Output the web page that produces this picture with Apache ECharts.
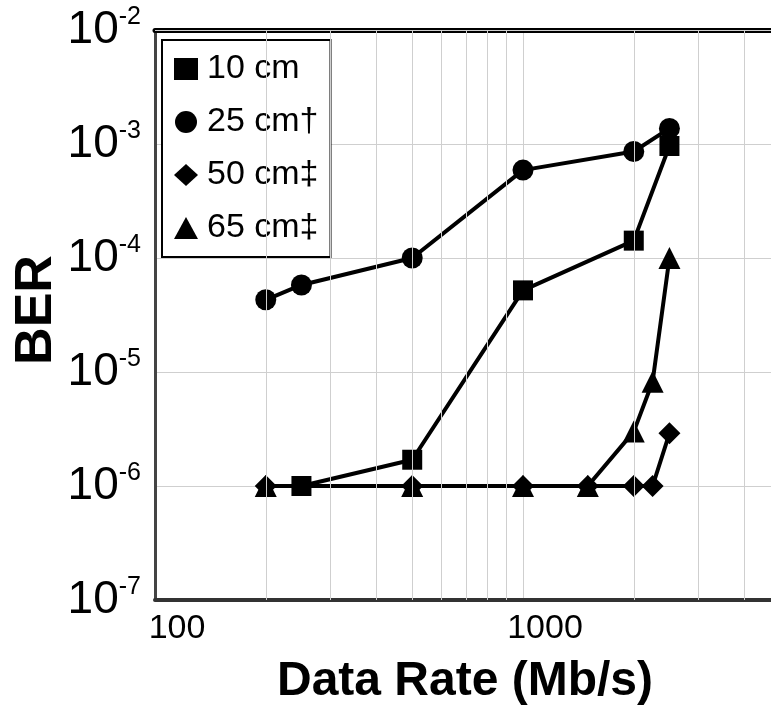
<!DOCTYPE html>
<html>
<head>
<meta charset="utf-8">
<script src="https://cdn.jsdelivr.net/npm/echarts@6/dist/echarts.min.js"></script>
<style>
  html, body { margin: 0; padding: 0; background: #fff; }
  #main { width: 771px; height: 717px; }
</style>
</head>
<body>
<div id="main"></div>
<script>
// 数据：横轴为数据率 (Mb/s)，纵轴为误码率 BER
const seriesNames = ['10 cm', '25 cm†', '50 cm‡', '65 cm‡']
const rate10 = [250, 500, 1000, 2000, 2500]
const ber10 = [1e-6, 1.7e-6, 5.2e-5, 1.42e-4, 9.6e-4]
const rate25 = [200, 250, 500, 1000, 2000, 2500]
const ber25 = [4.3e-5, 5.8e-5, 1e-4, 5.9e-4, 8.6e-4, 1.37e-3]
const rate50 = [200, 500, 1000, 1500, 2000, 2250, 2500]
const ber50 = [1e-6, 1e-6, 1e-6, 1e-6, 1e-6, 1e-6, 2.9e-6]
const rate65 = [200, 500, 1000, 1500, 2000, 2250, 2500]
const ber65 = [1e-6, 1e-6, 1e-6, 1e-6, 3e-6, 8.2e-6, 1e-4]

// 网格线（对数坐标的 2..9 倍）
const gridSteps = [2, 3, 4, 5, 6, 7, 8, 9]
const xDecades = [100, 1000]
const yDecades = [1e-7, 1e-6, 1e-5, 1e-4, 1e-3]
const xTickLabels = ['100', '1000']

const font = "'Liberation Sans', Arial, sans-serif"

function pairs(xs, ys) {
  return xs.map((x, i) => [x, ys[i]])
}

let gridLines = []
xDecades.forEach((d) => gridSteps.forEach((k) => gridLines.push({ xAxis: k * d })))
yDecades.forEach((d) => gridSteps.forEach((k) => gridLines.push({ yAxis: k * d })))

var myChart = echarts.init(document.getElementById('main'))

const lineSeries = (name, xs, ys, symbol, size) => ({
  name,
  type: 'line',
  data: pairs(xs, ys),
  symbol,
  symbolSize: size,
  z: 3,
  lineStyle: { color: '#000', width: 4 },
  itemStyle: { color: '#000' },
})

// 右边界被裁掉，横轴只显示到约 4700
const xMax = 4720

var option = {
  backgroundColor: '#fff',
  animation: false,
  grid: { left: 155, top: 30, bottom: 117, right: 0 },
  xAxis: [
    {
      type: 'log',
      min: 100,
      max: xMax,
      axisLine: { lineStyle: { color: '#333', width: 4 } },
      axisTick: { show: false },
      splitLine: { show: true, lineStyle: { color: '#cfcfcf', width: 1 } },
      axisLabel: {
        margin: 12,
        padding: [0, 0, 0, 44],
        fontFamily: font,
        fontSize: 34,
        color: '#000',
        showMaxLabel: false,
        formatter: (v) => (xTickLabels.includes(String(Math.round(v))) ? String(Math.round(v)) : ''),
      },
    },
    {
      type: 'log',
      position: 'top',
      min: 100,
      max: xMax,
      axisLine: { lineStyle: { color: '#000', width: 5 } },
      axisTick: { show: false },
      axisLabel: { show: false },
      splitLine: { show: false },
    },
  ],
  yAxis: {
    type: 'log',
    min: 1e-7,
    max: 1e-2,
    axisLine: { show: true, lineStyle: { color: '#444', width: 3 } },
    axisTick: { show: false },
    splitLine: { show: true, lineStyle: { color: '#cfcfcf', width: 1 } },
    axisLabel: {
      margin: 14,
      color: '#000',
      formatter: (v) => '{b|10}{s|' + Math.round(Math.log10(v)) + '}',
      rich: {
        b: { fontFamily: font, fontSize: 46, lineHeight: 50, color: '#000' },
        s: { fontFamily: font, fontSize: 25, lineHeight: 30, verticalAlign: 'top', color: '#000' },
      },
    },
  },
  legend: {
    orient: 'vertical',
    left: 162,
    top: 40,
    padding: [12, 12, 12, 12],
    itemGap: 19,
    itemWidth: 24,
    itemHeight: 22,
    backgroundColor: '#fff',
    borderColor: '#000',
    borderWidth: 2,
    textStyle: { fontFamily: font, fontSize: 34, color: '#000', padding: [0, 0, 0, 4] },
    data: [
      { name: seriesNames[0], icon: 'rect' },
      { name: seriesNames[1], icon: 'circle' },
      { name: seriesNames[2], icon: 'diamond' },
      { name: seriesNames[3], icon: 'triangle' },
    ],
  },
  graphic: [
    {
      type: 'text',
      x: 465,
      y: 682,
      style: {
        text: 'Data Rate (Mb/s)',
        font: 'bold 48px ' + font,
        fill: '#000',
        align: 'center',
        verticalAlign: 'middle',
      },
    },
    {
      type: 'text',
      x: 37,
      y: 310,
      rotation: Math.PI / 2,
      style: {
        text: 'BER',
        font: 'bold 52px ' + font,
        fill: '#000',
        align: 'center',
        verticalAlign: 'middle',
      },
    },
  ],
  series: [
    {
      name: 'grid',
      type: 'line',
      data: [],
      z: 1,
      silent: true,
      markLine: {
        silent: true,
        symbol: 'none',
        label: { show: false },
        lineStyle: { color: '#cfcfcf', width: 1, type: 'solid' },
        data: gridLines,
      },
    },
    lineSeries(seriesNames[0], rate10, ber10, 'rect', 20),
    lineSeries(seriesNames[1], rate25, ber25, 'circle', 21),
    lineSeries(seriesNames[2], rate50, ber50, 'diamond', 22),
    lineSeries(seriesNames[3], rate65, ber65, 'triangle', 22),
  ],
}

myChart.setOption(option)
</script>
</body>
</html>
